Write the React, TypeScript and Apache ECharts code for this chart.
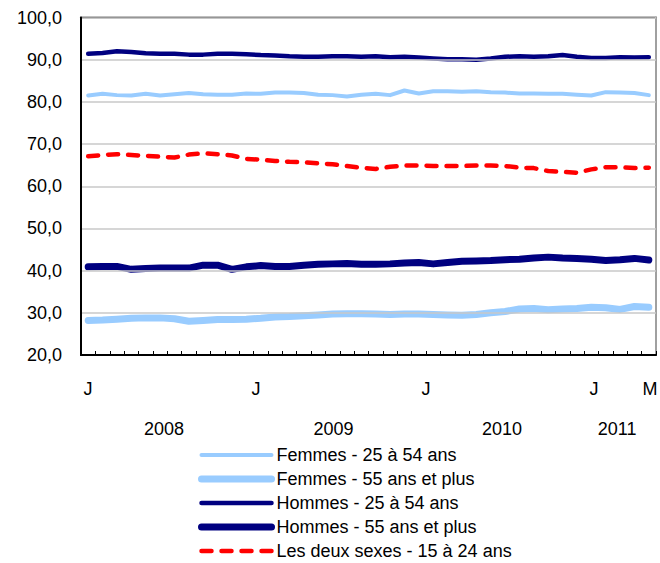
import React, { useEffect, useRef } from "react";
import * as echarts from "echarts";

const months = [
  "2008-01", "2008-02", "2008-03", "2008-04", "2008-05", "2008-06", "2008-07", "2008-08", "2008-09", "2008-10", "2008-11", "2008-12",
  "2009-01", "2009-02", "2009-03", "2009-04", "2009-05", "2009-06", "2009-07", "2009-08", "2009-09", "2009-10", "2009-11", "2009-12",
  "2010-01", "2010-02", "2010-03", "2010-04", "2010-05", "2010-06", "2010-07", "2010-08", "2010-09", "2010-10", "2010-11", "2010-12",
  "2011-01", "2011-02", "2011-03", "2011-04",
];

const femmes2554 = [
  81.5, 81.9, 81.6, 81.5, 81.9, 81.5, 81.8, 82.1, 81.8, 81.7, 81.7, 82.0,
  81.9, 82.2, 82.2, 82.1, 81.7, 81.6, 81.3, 81.7, 81.9, 81.6, 82.7, 82.0,
  82.5, 82.5, 82.4, 82.5, 82.3, 82.2, 82.0, 82.0, 81.9, 81.9, 81.7, 81.5,
  82.3, 82.2, 82.1, 81.6,
];

const femmes55 = [
  28.2, 28.3, 28.5, 28.7, 28.8, 28.8, 28.6, 28.0, 28.2, 28.4, 28.4, 28.5,
  28.7, 29.0, 29.1, 29.3, 29.5, 29.7, 29.8, 29.8, 29.7, 29.6, 29.7, 29.7,
  29.6, 29.5, 29.4, 29.6, 30.0, 30.3, 30.9, 31.0, 30.7, 30.9, 31.0, 31.3,
  31.2, 30.8, 31.5, 31.3,
];

const hommes2554 = [
  91.4, 91.6, 92.0, 91.8, 91.5, 91.4, 91.4, 91.2, 91.2, 91.4, 91.4, 91.3,
  91.1, 91.0, 90.8, 90.7, 90.7, 90.8, 90.8, 90.7, 90.8, 90.6, 90.7, 90.5,
  90.3, 90.1, 90.1, 90.0, 90.3, 90.7, 90.8, 90.7, 90.8, 91.1, 90.7, 90.4,
  90.4, 90.6, 90.5, 90.6,
];

const hommes55 = [
  40.9, 41.0, 41.0, 40.3, 40.5, 40.6, 40.6, 40.6, 41.3, 41.3, 40.3, 40.9,
  41.2, 41.0, 41.0, 41.3, 41.5, 41.6, 41.7, 41.5, 41.5, 41.6, 41.8, 41.9,
  41.6, 41.9, 42.2, 42.3, 42.4, 42.6, 42.7, 43.0, 43.2, 43.0, 42.9, 42.7,
  42.4, 42.6, 42.9, 42.5,
];

const deuxSexes1524 = [
  67.1, 67.4, 67.6, 67.4, 67.2, 67.0, 66.8, 67.5, 67.8, 67.6, 67.3, 66.5,
  66.3, 66.0, 65.8, 65.7, 65.4, 65.2, 64.8, 64.4, 64.1, 64.6, 64.9, 64.9,
  64.8, 64.8, 64.8, 64.9, 64.9, 64.8, 64.4, 64.3, 63.6, 63.4, 63.2, 64.0,
  64.5, 64.5, 64.3, 64.4,
];

const seriesNames = [
  "Femmes - 25 à 54 ans",
  "Femmes - 55 ans et plus",
  "Hommes - 25 à 54 ans",
  "Hommes - 55 ans et plus",
  "Les deux sexes - 15 à 24 ans",
];

// Tick labels below the axis (positions in months from the left edge of the plot)
const monthTickLabels = ["J", "J", "J", "J", "M"];
const monthTickPos = [0.49, 12.17, 24.0, 35.69, 39.58];
const yearLabels = ["2008", "2009", "2010", "2011"];
const yearPos = [5.77, 17.57, 29.29, 37.29];

const FONT = "'Liberation Sans', Arial, sans-serif";

function lookup(pos: number[], labels: string[], v: number): string {
  for (let i = 0; i < pos.length; i++) {
    if (Math.abs(pos[i] - v) < 0.001) return labels[i];
  }
  return "";
}

export default function App() {
  const ref = useRef<HTMLDivElement>(null);

  useEffect(() => {
    document.body.style.margin = "0";
    if (!ref.current) return;
    const chart = echarts.init(ref.current, null, { renderer: "svg" });

    const labelFont = { fontFamily: FONT, fontSize: 18, color: "#000" };

    const option = {
      animation: false,
      backgroundColor: "#fff",
      textStyle: { fontFamily: FONT },
      grid: {
        left: 81,
        right: 4,
        top: 17.5,
        bottom: 208,
        show: true,
        borderColor: "#000",
        borderWidth: 1.5,
        containLabel: false,
        outerBoundsMode: "none",
      },
      legend: {
        orient: "vertical",
        left: 198,
        top: 446,
        height: 116,
        padding: 0,
        itemWidth: 70,
        itemHeight: 18,
        itemGap: 6,
        selectedMode: false,
        data: seriesNames,
        lineStyle: { width: "inherit", type: "inherit", cap: "round" },
        itemStyle: { opacity: 0 },
        textStyle: { ...labelFont },
      },
      xAxis: [
        {
          type: "category",
          data: months,
          boundaryGap: true,
          axisLine: { show: true, onZero: false, lineStyle: { color: "#000", width: 2 } },
          axisTick: { show: true, inside: true, length: 4, interval: 0, lineStyle: { color: "#000", width: 1 } },
          axisLabel: { show: false },
          splitLine: { show: false },
          z: 5,
        },
        {
          type: "value",
          min: 0,
          max: 40,
          position: "bottom",
          axisLine: { show: false, onZero: false },
          axisTick: { show: false },
          splitLine: { show: false },
          axisLabel: {
            ...labelFont,
            customValues: monthTickPos,
            margin: 25,
            formatter: (v: number) => lookup(monthTickPos, monthTickLabels, v),
          },
        },
        {
          type: "value",
          min: 0,
          max: 40,
          position: "bottom",
          axisLine: { show: false, onZero: false },
          axisTick: { show: false },
          splitLine: { show: false },
          axisLabel: {
            ...labelFont,
            customValues: yearPos,
            margin: 65,
            formatter: (v: number) => lookup(yearPos, yearLabels, v),
          },
        },
      ],
      yAxis: [
        {
          type: "value",
          min: 20,
          max: 100,
          interval: 10,
          axisLine: { show: true, onZero: false, lineStyle: { color: "#000", width: 2 } },
          axisTick: { show: false },
          splitLine: { show: true, lineStyle: { color: "#C8C8C8", width: 1.5 } },
          axisLabel: {
            ...labelFont,
            margin: 19,
            formatter: (v: number) => v.toFixed(1).replace(".", ","),
          },
          z: 5,
        },
        {
          type: "value",
          min: 20,
          max: 100,
          interval: 10,
          position: "right",
          axisLine: { show: true, onZero: false, lineStyle: { color: "#A0A0A0", width: 2 } },
          axisTick: { show: false },
          splitLine: { show: false },
          axisLabel: { show: false },
        },
      ],
      series: [
        {
          name: seriesNames[0],
          type: "line",
          data: femmes2554,
          symbol: "none",
          lineStyle: { color: "#99CCFF", width: 4, cap: "round", join: "round" },
          itemStyle: { color: "#99CCFF" },
        },
        {
          name: seriesNames[1],
          type: "line",
          data: femmes55,
          symbol: "none",
          lineStyle: { color: "#99CCFF", width: 7, cap: "round", join: "round" },
          itemStyle: { color: "#99CCFF" },
        },
        {
          name: seriesNames[2],
          type: "line",
          data: hommes2554,
          symbol: "none",
          lineStyle: { color: "#000080", width: 4.5, cap: "round", join: "round" },
          itemStyle: { color: "#000080" },
        },
        {
          name: seriesNames[3],
          type: "line",
          data: hommes55,
          symbol: "none",
          lineStyle: { color: "#000080", width: 7, cap: "round", join: "round" },
          itemStyle: { color: "#000080" },
        },
        {
          name: seriesNames[4],
          type: "line",
          data: deuxSexes1524,
          symbol: "none",
          lineStyle: { color: "#FF0000", width: 4.5, type: [10, 10], cap: "round", join: "round" },
          itemStyle: { color: "#FF0000" },
        },
      ],
    };

    chart.setOption(option as any);
    return () => chart.dispose();
  }, []);

  return (
    <div
      ref={ref}
      style={{ position: "absolute", left: 0, top: 0, width: 660, height: 563 }}
    />
  );
}
